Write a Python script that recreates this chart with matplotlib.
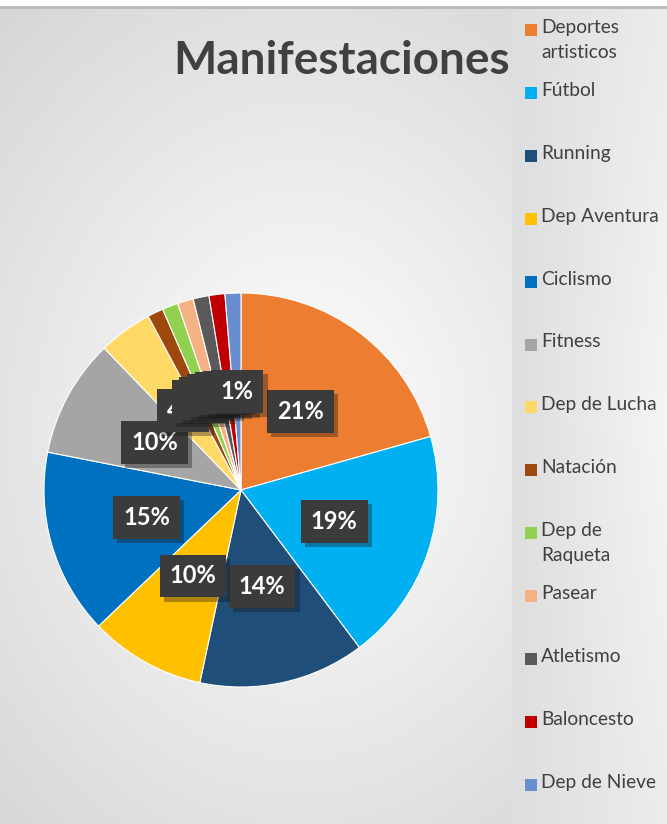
import numpy as np
import matplotlib.pyplot as plt
import matplotlib.patheffects as pe
from matplotlib.patches import Rectangle

categorias = ['Deportes\nartisticos', 'Fútbol', 'Running', 'Dep Aventura', 'Ciclismo',
              'Fitness', 'Dep de Lucha', 'Natación', 'Dep de\nRaqueta', 'Pasear',
              'Atletismo', 'Baloncesto', 'Dep de Nieve']
valores = [20.6, 19.1, 13.6, 9.5, 15.2, 9.7, 4.4, 1.3, 1.3, 1.3, 1.3, 1.3, 1.3]
colores = ['#ED7D31', '#00B0F0', '#1F4E79', '#FFC000', '#0070C0', '#A5A5A5', '#FFD966',
           '#9E480E', '#92D050', '#F4B183', '#595959', '#C00000', '#698ED0']

W, H = 667, 824
fig = plt.figure(figsize=(W / 100, H / 100), dpi=100)

# fondo con degradado radial
bg = fig.add_axes([0, 0, 1, 1])
yy, xx = np.mgrid[0:H, 0:W]
d = np.sqrt(((xx - 300) / 420.0) ** 2 + ((yy - 430) / 520.0) ** 2)
g = np.clip(1.0 - 0.15 * d, 0.83, 1.0)
img = np.dstack([g, g, g])
# panel de la leyenda
panel = (xx >= 512)
pg = 0.87 + 0.09 * (xx - 512) / (W - 512) * (1 - 0.4 * np.abs(yy - 420) / 420)
for c in range(3):
    img[..., c] = np.where(panel, pg, img[..., c])
img[0:6, :, :] = 1.0
img[6:9, :, :] = 0.74
bg.imshow(img, extent=[0, W, H, 0], aspect='auto')
bg.set_xlim(0, W)
bg.set_ylim(H, 0)
bg.axis('off')

# pastel
cx, cy, r = 241, 490, 197
ax = fig.add_axes([(cx - r) / W, 1 - (cy + r) / H, 2 * r / W, 2 * r / H])
wedges, texts, autotexts = ax.pie(
    valores, colors=colores, startangle=90, counterclock=False,
    autopct=lambda p: f'{p:.0f}%', pctdistance=0.5,
    wedgeprops=dict(edgecolor='white', linewidth=0.8),
    textprops=dict(color='white', fontsize=17, fontweight='bold', family='Lato'))
for t in autotexts:
    t.set_bbox(dict(boxstyle='square,pad=0.42', facecolor='#3b3b3b', edgecolor='none'))
    t.get_bbox_patch().set_path_effects([pe.SimplePatchShadow(offset=(3, -3), alpha=0.35),
                                         pe.Normal()])
ax.set_xlim(-1, 1)
ax.set_ylim(-1, 1)
ax.set_aspect('equal')

fig.text(342 / W, 1 - 61 / H, 'Manifestaciones', ha='center', va='center',
         fontsize=33, fontweight='bold', color='#404040', family='Lato')

# leyenda
for i, (lab, col) in enumerate(zip(categorias, colores)):
    y = 30 + i * 62.9
    fig.patches.append(Rectangle((525 / W, 1 - (y + 6) / H), 12 / W, 12 / H,
                                 transform=fig.transFigure, facecolor=col,
                                 edgecolor='none'))
    fig.text(541 / W, 1 - (y - 11) / H, lab, ha='left', va='top', fontsize=13.8,
             color='#404040', family='Lato', linespacing=1.55)

fig.savefig('out.png', dpi=100)
